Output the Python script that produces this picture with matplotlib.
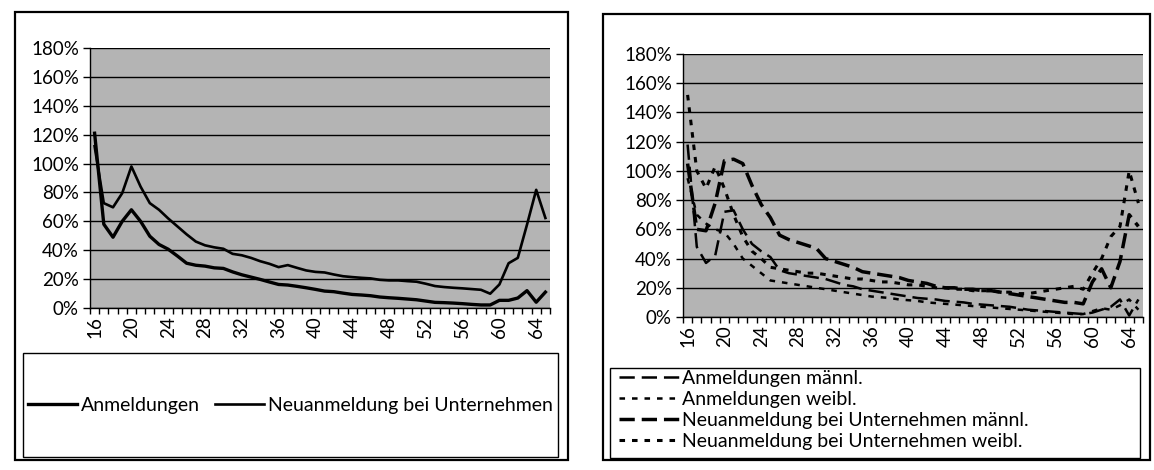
import matplotlib
matplotlib.use('agg')
import matplotlib.pyplot as plt
from matplotlib.patches import Rectangle
from matplotlib.ticker import FixedLocator, PercentFormatter

plt.rcParams['font.family'] = ['Lato', 'DejaVu Sans']
plt.rcParams['lines.scale_dashes'] = False

# age categories 16..65
ages = list(range(16, 66))

# overall ratios (%)
anmeldungen = [121, 58, 49, 60, 68, 60, 49.7, 44, 40.7, 36, 31, 29.6, 29, 27.8, 27.4,
               25, 23, 21.4, 19.8, 18, 16.3, 15.9, 15, 14, 12.9, 11.7, 11.3, 10.3, 9.4,
               9, 8.5, 7.6, 7.1, 6.7, 6.2, 5.7, 4.8, 3.9, 3.7, 3.4, 3, 2.5, 2.1, 2.1,
               5.3, 5.3, 6.9, 12, 4, 11]
neuanmeldung = [112, 72.6, 69.7, 79.5, 98, 84, 72.6, 68, 62, 56.5, 51, 46, 43.4, 42, 41,
                37.5, 36.5, 34.7, 32.4, 30.6, 28.3, 29.7, 27.8, 26, 25, 24.6, 23.2, 22,
                21.4, 20.9, 20.5, 19.5, 19.1, 19.1, 18.6, 18.2, 16.8, 15.2, 14.5, 14,
                13.6, 13.1, 12.6, 9.9, 16.3, 31, 34.7, 57.7, 81.8, 62.3]

# ratios by sex (%)
anm_m = [118, 48, 37, 42, 72, 73, 60, 50, 45, 41, 32, 30, 29, 28, 27, 26, 24, 22, 21,
         19, 18, 17, 16, 15, 14, 13, 12.5, 12, 11, 10.5, 10, 9, 8.5, 8, 7.5, 7, 6, 5,
         4.5, 4, 3.5, 3, 2.5, 2, 3, 5, 7, 12, 1, 12]
anm_w = [95, 70, 64, 60, 58, 50, 40, 35, 30, 25, 24, 23, 22, 21, 20, 19, 18, 17, 16,
         15, 14, 13.5, 13, 12, 11.5, 11, 10, 9.5, 9, 8.5, 8, 7.5, 7, 6.5, 6, 5.5, 5,
         4.5, 4, 3.5, 3, 2.5, 2, 2, 4, 6, 5, 8, 12, 5]
neu_m = [105, 60, 59, 78, 107, 108, 105, 90, 77, 68, 56, 53, 51, 49, 47, 40, 38, 36,
         34, 31, 30, 29, 28, 27, 25, 24, 23, 21, 20, 20, 19, 19, 18, 18, 17, 16, 15,
         14, 13, 12, 11, 10, 10, 9, 24, 33, 20, 38, 70, 62]
neu_w = [152, 100, 88, 103, 88, 70, 55, 45, 40, 34, 33, 32, 31, 30, 30, 29, 28, 27, 26,
         26, 25, 24, 24, 23, 22, 22, 21, 20, 20, 19, 19, 18, 18, 18, 17, 17, 16, 16,
         17, 18, 19, 20, 21, 19, 30, 40, 55, 62, 100, 78]

label_ticks = [16, 20, 24, 28, 32, 36, 40, 44, 48, 52, 56, 60, 64]

W, H = 1154, 470
fig = plt.figure(figsize=(W / 100, H / 100), dpi=100)


def px_rect(x0, y0, x1, y1):
    return [x0 / W, 1 - y1 / H, (x1 - x0) / W, (y1 - y0) / H]


def add_box(x0, y0, x1, y1, lw):
    bx, by, bw, bh = px_rect(x0, y0, x1, y1)
    fig.patches.append(Rectangle((bx, by), bw, bh, transform=fig.transFigure,
                                 fill=False, edgecolor='black', linewidth=lw))


def style_axes(ax):
    ax.set_facecolor('#b4b4b4')
    ax.set_xlim(15.5, 65.5)
    ax.set_ylim(0, 180)
    ax.set_yticks(range(0, 181, 20))
    ax.yaxis.set_major_formatter(PercentFormatter(decimals=0))
    ax.yaxis.grid(True, color='black', linewidth=1.0)
    ax.set_axisbelow(True)
    ax.xaxis.set_major_locator(FixedLocator(label_ticks))
    ax.xaxis.set_minor_locator(FixedLocator([a - 0.5 for a in ages] + [65.5]))
    ax.tick_params(axis='x', which='major', length=0, pad=6, labelrotation=90,
                   labelsize=13.5)
    ax.tick_params(axis='x', which='minor', length=4, width=1, color='black')
    ax.tick_params(axis='y', length=5, width=1, labelsize=13.5, pad=3)
    for s in ['top', 'right']:
        ax.spines[s].set_visible(False)
    ax.spines['left'].set_linewidth(1)
    ax.spines['bottom'].set_linewidth(1)


# outer chart frames
add_box(15, 12, 568, 460, 1.6)
add_box(603, 14, 1150, 460, 1.6)

## left chart
ax1 = fig.add_axes(px_rect(90, 48, 550, 308))
style_axes(ax1)
ax1.plot(ages, anmeldungen, color='black', linewidth=2.4, label='Anmeldungen')
ax1.plot(ages, neuanmeldung, color='black', linewidth=1.9,
         label='Neuanmeldung bei Unternehmen')
ax1.legend(loc='center', bbox_to_anchor=px_rect(23, 353, 558, 457),
           bbox_transform=fig.transFigure, ncol=2, frameon=False,
           fontsize=14, handlelength=2.5, handletextpad=0.2, columnspacing=0.8,
           borderaxespad=0, borderpad=0)
add_box(23, 353, 558, 457, 1.0)

## right chart
long_dash = (0, (11, 5))
short_dash = (0, (4, 5))
ax2 = fig.add_axes(px_rect(683, 54, 1143, 317))
style_axes(ax2)
ax2.plot(ages, anm_m, color='black', linewidth=1.8, linestyle=long_dash,
         label='Anmeldungen männl.')
ax2.plot(ages, anm_w, color='black', linewidth=1.8, linestyle=short_dash,
         label='Anmeldungen weibl.')
ax2.plot(ages, neu_m, color='black', linewidth=2.5, linestyle=long_dash,
         label='Neuanmeldung bei Unternehmen männl.')
ax2.plot(ages, neu_w, color='black', linewidth=2.2, linestyle=short_dash,
         label='Neuanmeldung bei Unternehmen weibl.')
ax2.legend(loc='upper left', bbox_to_anchor=px_rect(617, 368, 1140, 458),
           bbox_transform=fig.transFigure, ncol=1, frameon=False,
           fontsize=14, handlelength=3.1, handletextpad=0.15,
           labelspacing=0.2, borderaxespad=0, borderpad=0.1)
add_box(610, 368, 1140, 458, 1.0)

fig.savefig('out.png', dpi=100)
